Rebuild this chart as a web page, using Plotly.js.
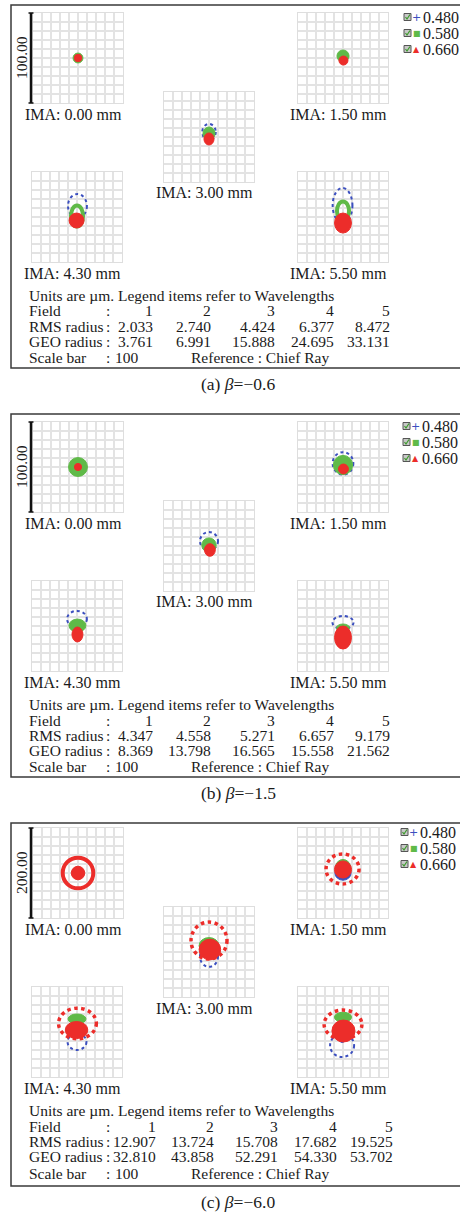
<!DOCTYPE html>
<html><head><meta charset="utf-8">
<script src="https://cdn.plot.ly/plotly-3.0.1.min.js"></script>
<style>html,body{margin:0;padding:0;background:#fff}#chart{width:460px;height:1218px}</style>
</head><body><div id="chart"></div>
<script>
// ---------- data ----------
const fieldLabels = ['IMA: 0.00 mm','IMA: 1.50 mm','IMA: 3.00 mm','IMA: 4.30 mm','IMA: 5.50 mm'];
const fieldNumbers = ['1','2','3','4','5'];
const wavelengths = ['0.480','0.580','0.660'];
const panelCaptions = ['(a) <i>β</i>=−0.6','(b) <i>β</i>=−1.5','(c) <i>β</i>=−6.0'];
const scaleBars = [100, 100, 200];
const scaleLabels = ['100.00','100.00','200.00'];
const rmsA = [2.033, 2.740, 4.424, 6.377, 8.472];
const geoA = [3.761, 6.991, 15.888, 24.695, 33.131];
const rmsB = [4.347, 4.558, 5.271, 6.657, 9.179];
const geoB = [8.369, 13.798, 16.565, 15.558, 21.562];
const rmsC = [12.907, 13.724, 15.708, 17.682, 19.525];
const geoC = [32.810, 43.858, 52.291, 54.330, 53.702];
// spot pattern components (µm, relative to chief ray):
// [field, wavelength, form, cx, cy, rx, ry]
const spotsA = [
  [0,1,'disk',0,0,5.5,5.5],[0,2,'disk',0,0,4.2,4.2],
  [1,1,'disk',0,2.2,6.7,6.7],[1,2,'disk',0.5,-2.8,5,5],
  [2,0,'ring',0,5.5,7.5,9],[2,1,'disk',0,3.9,6.7,7.2],[2,2,'disk',0,-2.2,5.6,6.7],
  [3,0,'ring',0.5,12.2,10.5,13.3],[3,1,'band',0,1.1,6.7,11.7],[3,2,'disk',-0.5,-3.9,8.3,8.3],
  [4,0,'ring',-0.5,12.8,11,19.4],[4,1,'band',0,6.7,6.7,10.6],[4,2,'disk',0,-6.7,9.4,11.1]
];
const spotsB = [
  [0,1,'disk',0,0,10.5,10.5],[0,2,'disk',0,0,4,4],
  [1,0,'ring',0,4,11.5,12.5],[1,1,'disk',0,2.2,10.7,10.7],[1,2,'disk',0.5,-2.2,5.5,5.5],
  [2,0,'ring',0,5.5,10,10],[2,1,'disk',0,1,8,8],[2,2,'disk',1,-4.4,6,7],
  [3,0,'ring',0,7.8,11,9],[3,1,'disk',0.5,0.5,9.4,7.2],[3,2,'disk',0.5,-9.4,6.1,8.3],
  [4,0,'ring',0,3.9,11.7,7.2],[4,1,'disk',0,-2.2,7.2,4.4],[4,2,'disk',0,-12.8,9.4,12.8]
];
const spotsC = [
  [0,1,'disk',0,0,13,13],[0,2,'band',0,0,34,34],[0,2,'disk',0,0,15,15],
  [1,0,'disk',0,0,18,16],[1,1,'disk',0,14,16,16],[1,2,'ring',-1,8.9,36.7,33.3],[1,2,'disk',0,7.8,19,19],
  [2,0,'ring',0,-10,20,23],[2,1,'disk',0,14,22,18],[2,2,'ring',0,25.5,40,41],[2,2,'disk',2,5.5,24,23],
  [3,0,'ring',0,-22,21,18],[3,1,'disk',0,29,20,11],[3,2,'ring',1,19,42,34],[3,2,'disk',-1,4.4,25,19],
  [4,0,'ring',-2,-30,26.7,25.6],[4,0,'disk',-2,-17.8,5.5,5.5],[4,1,'disk',0,33,19,11],[4,2,'ring',0,16.7,42,32],[4,2,'disk',1,2.2,25.6,24.4]
];

// ---------- layout ----------
const W = 460, H = 1218;
const SERIF = 'Liberation Serif, "Times New Roman", Times, serif';
const px = v => v / W;
const py = v => 1 - v / H;
const spotsByPanel = [spotsA, spotsB, spotsC];
const rmsByPanel = [rmsA, rmsB, rmsC];
const geoByPanel = [geoA, geoB, geoC];
const waveColor = ['#3b4fbf', '#5fba48', '#ec2d2a'];
const waveSymbol = ['+', '■', '▲'];
const waveSymSize = [11, 8, 8];

const contentTop = [5, 414, 820];
const borderTop = [5, 414, 823];
const boxes = [[33,8],[298,8],[164,87],[32,167],[298,167]];
const BOX = 90;
const labelY = [109,109,188,268,268];
const legendRows = [12,28,44];
const legendShift = [0, -1, -3];
const tableRows = [290,306,321,336,353];
const colRight = [155,213,277,336,392];
const colShift = [0, 0, 3];
const TF = 15.5;

const data = [], shapes = [], annotations = [];
const layout = {
  width: W, height: H, margin: {l:0, r:0, t:0, b:0}, showlegend: false,
  paper_bgcolor: '#ffffff', plot_bgcolor: 'rgba(0,0,0,0)',
  font: {family: SERIF, color: '#1a1a1a'}
};
function ann(x, y, text, size, opts) {
  annotations.push(Object.assign({xref:'paper', yref:'paper', x: px(x), y: py(y), text: text,
    showarrow:false, xanchor:'left', yanchor:'middle', font:{family:SERIF, size:size, color:'#1a1a1a'}}, opts || {}));
}

for (let p = 0; p < 3; p++) {
  const T = contentTop[p];
  const R = scaleBars[p] / 2;
  shapes.push({type:'rect', xref:'paper', yref:'paper', x0:px(11), x1:px(463),
    y0:py(borderTop[p]), y1:py(borderTop[p] + 363), line:{color:'#3a3a3a', width:1.5}, layer:'below'});
  for (let f = 0; f < 5; f++) {
    const n = p * 5 + f + 1;
    const sfx = n === 1 ? '' : String(n);
    const bx = boxes[f][0], by = T + boxes[f][1];
    const common = {range:[-R, R], dtick:R/5, tick0:0, showgrid:true, gridcolor:'#e3e3e3', gridwidth:1.4,
      zeroline:false, showline:true, mirror:true, linecolor:'#dedede', linewidth:1.4,
      showticklabels:false, ticks:'', fixedrange:true};
    layout['xaxis' + sfx] = Object.assign({domain:[px(bx), px(bx + BOX)], anchor:'y' + sfx}, common);
    layout['yaxis' + sfx] = Object.assign({domain:[py(by + BOX), py(by)], anchor:'x' + sfx}, common);
    ann(bx + BOX + 1, T + labelY[f], fieldLabels[f], 16, {xanchor:'right'});
  }
  // spots, drawn in wavelength order
  const sorted = spotsByPanel[p].slice().sort((a, b) => a[1] - b[1]);
  sorted.forEach(s => {
    const [f, w, form, cx, cy, rx, ry] = s;
    const n = p * 5 + f + 1;
    const sfx = n === 1 ? '' : String(n);
    const c = waveColor[w];
    const shp = {type:'circle', xref:'x' + sfx, yref:'y' + sfx, x0:cx - rx, x1:cx + rx, y0:cy - ry, y1:cy + ry, layer:'above'};
    if (form === 'disk') { shp.fillcolor = c; shp.line = {color:c, width:1}; }
    else if (form === 'ring') { shp.fillcolor = 'rgba(0,0,0,0)'; shp.line = {color:c, width: w === 0 ? 2 : 3.5, dash:'dot'}; }
    else { shp.fillcolor = 'rgba(0,0,0,0)'; shp.line = {color:c, width:4}; }
    shapes.push(shp);
  });
  // scale bar
  const sb0 = T + boxes[0][1], sb1 = sb0 + BOX;
  shapes.push({type:'line', xref:'paper', yref:'paper', x0:px(31), x1:px(31), y0:py(sb0), y1:py(sb1), line:{color:'#111', width:2.5}});
  shapes.push({type:'line', xref:'paper', yref:'paper', x0:px(28.5), x1:px(33.5), y0:py(sb0), y1:py(sb0), line:{color:'#111', width:1.5}});
  shapes.push({type:'line', xref:'paper', yref:'paper', x0:px(28.5), x1:px(33.5), y0:py(sb1), y1:py(sb1), line:{color:'#111', width:1.5}});
  ann(21, (sb0 + sb1) / 2, scaleLabels[p], 15.5, {xanchor:'center', textangle:-90});
  // legend
  for (let k = 0; k < 3; k++) {
    const yy = T + legendRows[k], dx = legendShift[p];
    shapes.push({type:'rect', xref:'paper', yref:'paper', x0:px(404 + dx), x1:px(411 + dx), y0:py(yy + 3.5), y1:py(yy - 3.5),
      fillcolor:'#c8c8c8', line:{color:'#555', width:1}});
    shapes.push({type:'path', xref:'paper', yref:'paper',
      path:'M ' + px(405.5 + dx) + ' ' + py(yy) + ' L ' + px(407 + dx) + ' ' + py(yy + 2) + ' L ' + px(410 + dx) + ' ' + py(yy - 2.5),
      line:{color:'#3c9a2c', width:1.2}});
    annotations.push({xref:'paper', yref:'paper', x:px(416.5 + dx), y:py(yy), text:waveSymbol[k], showarrow:false,
      xanchor:'center', yanchor:'middle', font:{family:'DejaVu Sans', size:waveSymSize[k], color:waveColor[k]}});
    ann(421 + dx, yy, wavelengths[k], 16);
  }
  // table
  const rms = rmsByPanel[p], geo = geoByPanel[p];
  const cs = colShift[p];
  ann(27, T + tableRows[0], 'Units are µm. Legend items refer to Wavelengths', TF);
  ann(27, T + tableRows[1], 'Field', TF);
  ann(27, T + tableRows[2], 'RMS radius', TF);
  ann(27, T + tableRows[3], 'GEO radius', TF);
  ann(27, T + tableRows[4], 'Scale bar', TF);
  for (let r = 1; r <= 4; r++) ann(104, T + tableRows[r], ':', TF);
  for (let f = 0; f < 5; f++) {
    ann(colRight[f] + cs, T + tableRows[1], fieldNumbers[f], TF, {xanchor:'right'});
    ann(colRight[f] + cs, T + tableRows[2], rms[f].toFixed(3), TF, {xanchor:'right'});
    ann(colRight[f] + cs, T + tableRows[3], geo[f].toFixed(3), TF, {xanchor:'right'});
  }
  ann(113, T + tableRows[4], String(scaleBars[0]), TF);
  ann(189, T + tableRows[4], 'Reference : Chief Ray', TF);
  // caption
  ann(238, borderTop[p] + 379, panelCaptions[p], 17.5, {xanchor:'center'});
}
layout.shapes = shapes;
layout.annotations = annotations;
Plotly.newPlot('chart', data, layout, {staticPlot:true, displayModeBar:false});
</script>
</body></html>
